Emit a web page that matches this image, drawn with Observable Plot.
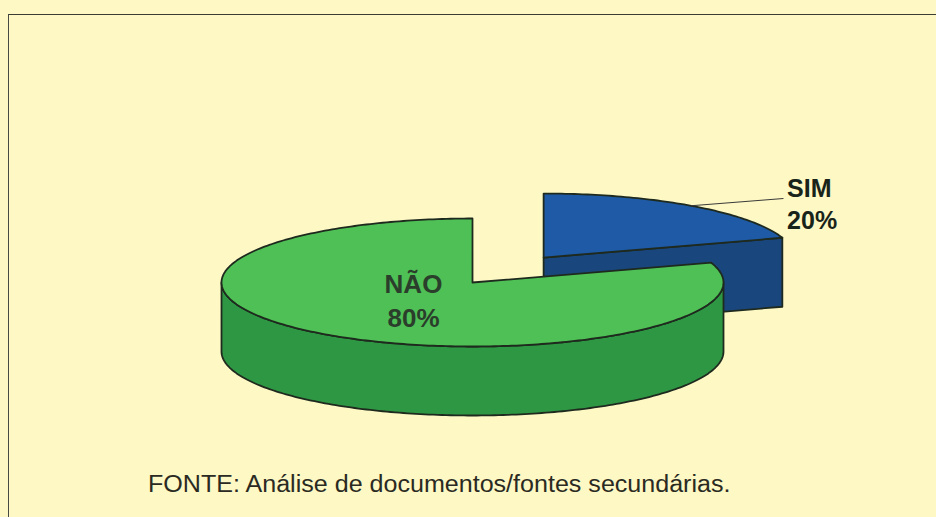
<!DOCTYPE html>
<html>
<head>
<meta charset="utf-8">
<script src="https://cdn.jsdelivr.net/npm/d3@7"></script>
<script src="https://cdn.jsdelivr.net/npm/@observablehq/plot@0.6"></script>
<style>
  html, body { margin: 0; padding: 0; width: 936px; height: 517px; overflow: hidden; background: #fdf8c4; }
  #wrap { position: relative; width: 936px; height: 517px; }
  #frame { position: absolute; left: 8px; top: 14px; right: 0; bottom: 0;
           border-top: 1.5px solid #3c3c36; border-left: 1.5px solid #4a4a44; pointer-events: none; }
  #chart svg { display: block; }
  #caption { position: absolute; left: 148px; top: 471px; font-family: "Liberation Sans", Arial, sans-serif;
             font-size: 23px; line-height: 27px; color: #2a2a22; white-space: nowrap;
             transform: scaleX(1.09); transform-origin: left center; }
</style>
</head>
<body>
<div id="wrap">
  <div id="chart"></div>
  <div id="caption"></div>
  <div id="frame"></div>
</div>
<script>
// ---- data ----
const categories = ["SIM", "NÃO"];
const values = [20, 80];
const percentLabels = ["20%", "80%"];
const captionText = "FONTE: Análise de documentos/fontes secundárias.";

// ---- styles ----
const topColors = ["#1e5aa6", "#4ec055"];
const sideColors = ["#19467d", "#2e9743"];
const outline = "#1f2a1f";
const labelColors = ["#18241a", "#2b3d2b"];

// ---- 3D pie geometry (projection parameters) ----
const G = { cx: 472, cy: 282, rx: 251, ry: 64, depth: 69, explode: [121, 0] };
const rad = d => d * Math.PI / 180;
const total = d3.sum(values);
let acc = 0;
const slices = values.map((v, i) => {
  const a0 = acc / total * 360; acc += v; const a1 = acc / total * 360;
  const mid = (a0 + a1) / 2, e = G.explode[i];
  return { i, a0, a1, mid,
    ox: G.cx + e * Math.sin(rad(mid)),
    oy: G.cy - e * Math.cos(rad(mid)) * G.ry / G.rx };
});
const P = (s, t, dz = 0, f = 1) => [s.ox + G.rx * f * Math.sin(rad(t)), s.oy - G.ry * f * Math.cos(rad(t)) + dz];
const arc = (s, t0, t1, dz = 0) => {
  const n = Math.max(2, Math.ceil(Math.abs(t1 - t0)));
  return d3.range(n + 1).map(k => P(s, t0 + (t1 - t0) * k / n, dz));
};
const toRows = pts => { const c = pts.concat([pts[0]]); return c.map(([x, y]) => ({ x, y })); };

const marks = [];
const order = slices.slice().sort((a, b) => a.oy - b.oy); // back to front
for (const s of order) {
  const D = G.depth;
  // radial faces
  for (const [t, vis] of [[s.a1, Math.sin(rad(s.a1)) > 1e-6], [s.a0, Math.sin(rad(s.a0)) < -1e-6]]) {
    if (!vis) continue;
    const poly = [[s.ox, s.oy], P(s, t), P(s, t, D), [s.ox, s.oy + D]];
    marks.push(Plot.line(toRows(poly), { x: "x", y: "y", fill: sideColors[s.i], stroke: outline, strokeWidth: 1.8, strokeLinejoin: "round" }));
  }
  // outer curved side (front half 90..270)
  const lo = Math.max(s.a0, 90), hi = Math.min(s.a1, 270);
  if (hi > lo) {
    const poly = arc(s, lo, hi).concat(arc(s, hi, lo, D));
    marks.push(Plot.line(toRows(poly), { x: "x", y: "y", fill: sideColors[s.i], stroke: outline, strokeWidth: 1.8, strokeLinejoin: "round" }));
  }
  // top face
  const top = [[s.ox, s.oy]].concat(arc(s, s.a0, s.a1));
  marks.push(Plot.line(toRows(top), { x: "x", y: "y", fill: topColors[s.i], stroke: outline, strokeWidth: 1.8, strokeLinejoin: "round" }));
}

// labels
const sim = slices[0], nao = slices[1];
const simArc = P(sim, sim.mid);
const simLabel = { x: sim.ox + G.rx * 0.97, y: sim.oy - G.ry * 1.25 };
marks.push(Plot.line([{ x: simArc[0], y: simArc[1] }, { x: simLabel.x - 4, y: simLabel.y + 21 }], { x: "x", y: "y", stroke: "#3a3a3a", strokeWidth: 1 }));
marks.push(Plot.text([{ x: simLabel.x, y: simLabel.y, t: categories[0] + "\n" + percentLabels[0] }], {
  x: "x", y: "y", text: "t", fontSize: 25, fontWeight: "bold", fontFamily: "Liberation Sans, Arial, sans-serif",
  textAnchor: "start", lineAnchor: "top", lineHeight: 1.3, dy: -4, fill: labelColors[0]
}));
const naoPos = P(nao, nao.mid, 0, 0.4);
marks.push(Plot.text([{ x: naoPos[0], y: naoPos[1], t: categories[1] + "\n" + percentLabels[1] }], {
  x: "x", y: "y", text: "t", fontSize: 26, fontWeight: "bold", fontFamily: "Liberation Sans, Arial, sans-serif",
  textAnchor: "middle", lineAnchor: "middle", lineHeight: 1.3, dy: -4, fill: labelColors[1]
}));

const chart = Plot.plot({
  width: 936, height: 455, margin: 0,
  x: { domain: [0, 936], range: [0, 936], axis: null },
  y: { domain: [0, 455], range: [0, 455], axis: null },
  style: { background: "transparent", overflow: "visible" },
  marks
});
document.getElementById("chart").appendChild(chart);
document.getElementById("caption").textContent = captionText;
</script>
</body>
</html>
